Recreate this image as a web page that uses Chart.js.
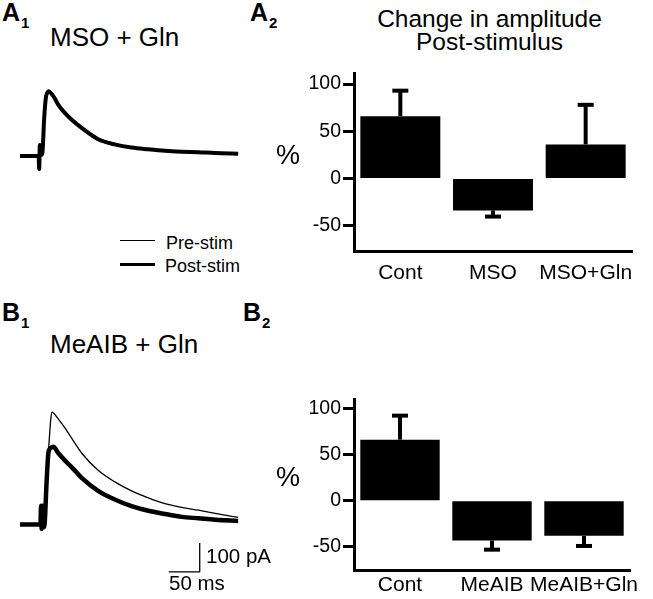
<!DOCTYPE html>
<html>
<head>
<meta charset="utf-8">
<script src="https://cdn.jsdelivr.net/npm/chart.js@4/dist/chart.umd.min.js"></script>
<style>
html,body{margin:0;padding:0;background:#fff;}
#fig{position:relative;width:653px;height:599px;overflow:hidden;background:#fff;font-family:"Liberation Sans",Arial,Helvetica,sans-serif;color:#000;}
#fig canvas{position:absolute;}
.t{position:absolute;line-height:1;white-space:nowrap;}
.pl{font-weight:bold;font-size:25px;}
.pl span{font-size:15px;position:relative;top:7px;margin-left:1px;}
.leg{position:absolute;width:35px;height:0;border-top-style:solid;border-top-color:#000;}
</style>
</head>
<body>
<div id="fig">
  <canvas id="traceA" width="260" height="121" style="left:0;top:60px;"></canvas>
  <canvas id="traceB" width="260" height="190" style="left:0;top:390px;"></canvas>
  <canvas id="barA" width="363" height="230" style="left:290px;top:60px;"></canvas>
  <canvas id="barB" width="363" height="214" style="left:290px;top:385px;"></canvas>

  <div class="t pl" style="left:2px;top:0px;">A<span>1</span></div>
  <div class="t pl" style="left:250px;top:0px;">A<span>2</span></div>
  <div class="t pl" style="left:2px;top:300px;">B<span>1</span></div>
  <div class="t pl" style="left:243px;top:300px;">B<span>2</span></div>

  <div class="t" style="left:50px;top:24px;font-size:26px;">MSO + Gln</div>
  <div class="t" style="left:50px;top:331px;font-size:26px;">MeAIB + Gln</div>

  <div class="t" style="left:369.5px;top:7px;width:240px;text-align:center;font-size:24.5px;line-height:23px;">Change in amplitude<br>Post-stimulus</div>

  <div class="t" style="left:276px;top:142px;font-size:27px;">%</div>
  <div class="t" style="left:276px;top:464px;font-size:27px;">%</div>

  <div class="leg" style="left:120px;top:239.5px;border-top-width:1.3px;"></div>
  <div class="leg" style="left:120px;top:262.5px;border-top-width:3px;"></div>
  <div class="t" style="left:166px;top:234px;font-size:18px;">Pre-stim</div>
  <div class="t" style="left:165px;top:257px;font-size:18px;">Post-stim</div>

  <div class="t" style="left:206px;top:546px;font-size:20.5px;">100 pA</div>
  <div class="t" style="left:169px;top:573px;font-size:20.5px;">50 ms</div>
</div>
<script>
// ---- Data ----
// A1: MSO + Gln traces (time in ms, current in pA, inward plotted upward)
const traceTimeA = [0, 30, 31, 32, 33, 36, 39, 42, 46, 54, 62, 78, 100, 126, 153, 180, 207, 234, 261, 288, 315, 352];
const preStimA   = [0, 0, -45, 38, 2, 8, 135, 210, 228, 212, 182, 142, 101, 62, 43, 31, 24, 19, 15, 13, 10, 8];
const postStimA  = [0, 0, -45, 38, 2, 8, 130, 205, 222, 206, 176, 136, 96, 58, 40, 29, 23, 18, 15, 13, 10, 8];

// B1: MeAIB + Gln traces
const traceTimeB = [0, 33, 34, 35, 37, 38, 40, 43, 46, 50, 52, 54, 62, 73, 89, 100, 126, 153, 180, 207, 234, 261, 288, 315, 352];
const preStimB   = [0, 0, 64, -16, 64, -10, 10, 120, 250, 370, 388, 385, 364, 332, 279, 245, 187, 147, 116, 92, 72, 59, 49, 38, 24];
const postStimB  = [0, 0, 64, -16, 64, -10, 10, 150, 250, 265, 267, 268, 246, 220, 185, 160, 116, 86, 63, 47, 36, 26, 21, 16, 12];

// Scale bar: 50 ms x 100 pA
const scaleBarTime    = [240, 290, 290];
const scaleBarCurrent = [-164, -164, -64];

// A2 / B2: change in amplitude post-stimulus (%), mean and SEM
const categoriesA = ['Cont', 'MSO', 'MSO+Gln'];
const changeA     = [66, -34, 36];
const semA        = [27, 6.5, 42];
const categoriesB = ['Cont', 'MeAIB', 'MeAIB+Gln'];
const changeB     = [66, -43, -38];
const semB        = [26, 10, 11];
const yTickValues = [-50, 0, 50, 100];

// ---- Rendering ----
const FONT = '"Liberation Sans", Arial, Helvetica, sans-serif';
const pts = (xs, ys) => xs.map((x, i) => ({x: x, y: ys[i]}));

function traceChart(id, time, pre, post, yMin, yMax, pad, postWidth, extra) {
  const datasets = [
    {label: 'Post-stim', data: pts(time, post), borderColor: '#000', borderWidth: postWidth,
     pointRadius: 0, cubicInterpolationMode: 'monotone'},
    {label: 'Pre-stim', data: pts(time, pre), borderColor: '#000', borderWidth: 1.3,
     pointRadius: 0, cubicInterpolationMode: 'monotone'}
  ];
  if (extra) datasets.push(extra);
  new Chart(document.getElementById(id), {
    type: 'line',
    data: {datasets: datasets},
    options: {
      responsive: false, animation: false, devicePixelRatio: 1,
      layout: {padding: pad},
      plugins: {legend: {display: false}, tooltip: {enabled: false}, title: {display: false}},
      elements: {line: {borderJoinStyle: 'round', borderCapStyle: 'butt'}},
      scales: {
        x: {type: 'linear', min: 0, max: 355, display: false},
        y: {type: 'linear', min: yMin, max: yMax, display: false}
      }
    }
  });
}

function errorBarPlugin(vals, errs) {
  return {
    id: 'errorBars',
    afterDatasetsDraw(chart) {
      const meta = chart.getDatasetMeta(0);
      const ys = chart.scales.y;
      const ctx = chart.ctx;
      ctx.save();
      ctx.strokeStyle = '#000';
      ctx.lineWidth = 4;
      meta.data.forEach((bar, i) => {
        const v = vals[i], e = errs[i];
        const end = v >= 0 ? v + e : v - e;
        const x = bar.x;
        const y0 = ys.getPixelForValue(v);
        const y1 = ys.getPixelForValue(end);
        ctx.beginPath(); ctx.moveTo(x, y0); ctx.lineTo(x, y1); ctx.stroke();
        ctx.beginPath(); ctx.moveTo(x - 8, y1); ctx.lineTo(x + 8, y1); ctx.stroke();
      });
      ctx.restore();
    }
  };
}

function barChart(id, cats, vals, errs, yMin, yMax, padTop, padRight, xAxisH, xTickPad) {
  new Chart(document.getElementById(id), {
    type: 'bar',
    data: {labels: cats, datasets: [{data: vals, backgroundColor: '#000', borderWidth: 0,
      barPercentage: 0.863, categoryPercentage: 1}]},
    options: {
      responsive: false, animation: false, devicePixelRatio: 1,
      layout: {padding: {left: 0, right: padRight, top: padTop, bottom: 0}},
      plugins: {legend: {display: false}, tooltip: {enabled: false}},
      scales: {
        x: {
          grid: {display: false, drawTicks: false},
          border: {display: true, color: '#000', width: 3},
          ticks: {color: '#000', font: {family: FONT, size: 21}, padding: xTickPad, maxRotation: 0, autoSkip: false},
          afterFit: s => { s.height = xAxisH; }
        },
        y: {
          min: yMin, max: yMax,
          grid: {drawOnChartArea: false, drawTicks: true, tickLength: 11, tickWidth: 3, color: '#000'},
          border: {display: true, color: '#000', width: 3},
          ticks: {color: '#000', font: {family: FONT, size: 19.5}, padding: 2},
          afterBuildTicks: s => { s.ticks = yTickValues.map(v => ({value: v})); },
          afterFit: s => { s.width = 64; }
        }
      }
    },
    plugins: [errorBarPlugin(vals, errs)]
  });
}

traceChart('traceA', traceTimeA, preStimA, postStimA, -83, 297,
  {left: 20, right: 20, top: 10, bottom: 1}, 4, null);

traceChart('traceB', traceTimeB, preStimB, postStimB, -175, 430,
  {left: 20, right: 20, top: 10, bottom: 5}, 4.5,
  {label: 'Scale', data: pts(scaleBarTime, scaleBarCurrent), borderColor: '#000',
   borderWidth: 1.3, pointRadius: 0, tension: 0});

barChart('barA', categoriesA, changeA, semA, -77, 111, 13, 21, 39, 9.7);
barChart('barB', categoriesB, changeB, semB, -75, 110, 14, 23, 29, 3.1);
</script>
</body>
</html>
